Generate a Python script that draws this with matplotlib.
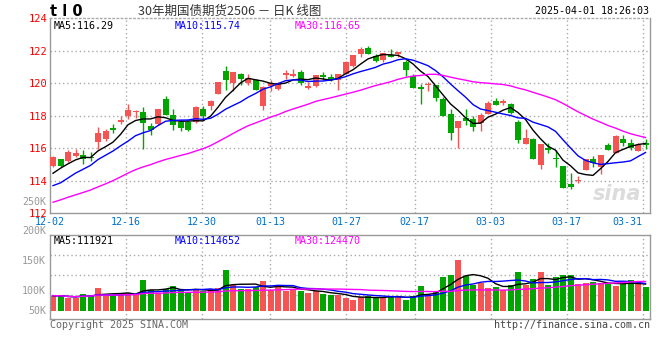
import matplotlib
matplotlib.use("Agg")
import matplotlib.pyplot as plt
import numpy as np
import pandas as pd

# daily candles, 2024-12-02 .. 2025-04-01 (80 trading days)
opens = [114.91, 115.34, 115.20, 115.53, 115.57, 115.49, 116.39, 116.55, 117.25, 117.58,
         117.95, 118.20, 118.24, 117.37, 117.50, 119.02, 118.06, 117.59, 117.59, 117.59,
         118.41, 118.57, 119.35, 120.76, 120.00, 120.57, 120.00, 120.16, 118.61, 119.80,
         119.63, 120.49, 120.41, 120.69, 119.67, 119.80, 120.51, 120.37, 120.16, 120.57,
         121.02, 121.80, 122.16, 121.67, 121.39, 121.73, 121.80, 121.27, 120.45, 119.75,
         119.90, 119.90, 119.02, 118.11, 117.25, 117.85, 117.78, 117.54, 118.11, 118.93,
         118.77, 118.69, 117.64, 116.27, 116.55, 114.95, 116.02, 115.41, 114.91, 113.80,
         113.99, 114.67, 115.32, 114.87, 116.18, 115.73, 116.59, 116.31, 115.82, 116.31]
highs = [115.50, 115.36, 115.86, 115.94, 115.86, 115.78, 117.33, 117.17, 117.46, 117.99,
         118.73, 118.32, 118.52, 117.54, 118.40, 119.18, 118.43, 117.76, 117.76, 118.61,
         118.57, 118.98, 120.04, 121.02, 120.69, 120.61, 120.57, 120.24, 119.80, 120.20,
         120.04, 120.82, 120.86, 120.82, 120.04, 120.51, 120.67, 120.57, 120.55, 121.33,
         121.73, 122.20, 122.29, 121.80, 121.88, 122.08, 121.92, 121.43, 120.57, 119.92,
         120.08, 119.90, 119.14, 118.40, 117.70, 118.40, 117.99, 118.19, 118.87, 119.08,
         119.04, 118.77, 117.74, 117.17, 116.62, 116.27, 116.35, 115.90, 114.91, 114.50,
         114.30, 115.32, 115.53, 115.61, 116.35, 116.84, 116.82, 116.59, 116.31, 116.55]
lows = [114.85, 114.83, 115.15, 115.45, 115.00, 115.24, 115.98, 116.43, 116.92, 117.50,
        117.78, 117.83, 115.98, 116.80, 117.45, 118.03, 117.10, 117.04, 117.04, 117.55,
        117.76, 118.33, 119.30, 119.59, 119.49, 119.90, 119.90, 119.55, 118.37, 119.49,
        119.59, 120.24, 120.37, 119.90, 119.63, 119.78, 120.20, 120.10, 119.59, 120.55,
        121.00, 121.63, 121.76, 121.27, 121.31, 121.59, 121.63, 120.41, 119.71, 118.69,
        119.49, 118.87, 117.99, 116.51, 116.02, 117.44, 117.03, 117.07, 118.11, 118.63,
        118.63, 118.11, 116.35, 116.27, 115.36, 114.75, 115.69, 114.87, 113.56, 113.52,
        113.85, 114.63, 114.83, 114.42, 115.86, 115.73, 116.14, 115.90, 115.82, 115.94]
closes = [115.45, 114.91, 115.77, 115.69, 115.36, 115.40, 116.96, 117.05, 117.09, 117.74,
          118.36, 118.26, 117.54, 117.09, 118.40, 118.07, 117.45, 117.27, 117.14, 118.53,
          118.00, 118.88, 120.04, 120.16, 120.69, 120.27, 120.31, 119.59, 119.76, 120.00,
          120.00, 120.65, 120.57, 120.00, 119.84, 120.51, 120.35, 120.20, 120.55, 121.27,
          121.73, 122.08, 121.80, 121.33, 121.84, 121.63, 121.92, 120.78, 119.71, 119.65,
          119.96, 119.08, 117.99, 116.92, 117.70, 117.68, 117.33, 118.05, 118.77, 118.63,
          118.89, 118.15, 116.51, 116.64, 115.36, 116.23, 115.86, 115.32, 113.56, 113.64,
          114.05, 115.32, 115.08, 115.61, 115.86, 116.76, 116.31, 116.02, 116.18, 116.18]
# closes before the window (needed for the moving averages at the left edge)
prev_closes = [110.6, 110.9, 111.3, 111.0, 110.8, 111.2, 111.5, 111.1, 110.9, 111.3,
               112.0, 112.5, 112.9, 113.3, 113.6, 113.8, 113.5, 113.7, 113.9, 113.6,
               113.2, 112.8, 112.7, 113.0, 113.0, 113.36, 114.42, 114.49, 114.58]
volumes = [87.6, 86.8, 82.6, 82.6, 91.8, 86.8, 106.8, 87.6, 88.4, 95.1,
           94.3, 91.8, 126.8, 101.8, 95.1, 104.3, 111.8, 101.8, 97.6, 101.8,
           98.4, 104.3, 106.8, 151.8, 114.3, 103.4, 105.1, 108.4, 124.3, 101.8,
           114.3, 99.3, 105.1, 99.3, 94.3, 100.1, 91.8, 89.3, 89.3, 81.8,
           76.8, 83.4, 86.8, 85.1, 83.4, 85.1, 86.8, 76.8, 86.8, 111.8,
           91.8, 99.3, 134.3, 139.3, 176.8, 136.8, 114.3, 120.1, 107.6, 109.3,
           101.8, 114.3, 146.8, 114.3, 129.3, 146.8, 114.3, 134.3, 139.3, 139.3,
           116.8, 120.1, 121.8, 120.1, 116.8, 111.8, 116.8, 126.8, 118.4, 109.3]

tick_labels = ["12-02", "12-16", "12-30", "01-13", "01-27", "02-17", "03-03", "03-17", "03-31"]
tick_index = [0, 10, 20, 29, 39, 48, 58, 68, 78]
vol_labels = ["250K", "200K", "150K", "100K", "50K"]
vol_label_px = [202, 231, 261, 291, 311]

RED = "#f65353"
GREEN = "#00a500"
GRID = "#aaaaaa"
MONO = "DejaVu Sans Mono"

W, H = 660, 360


def fx(px):
    return px / W


def fy(py):
    return 1 - py / H


opens = np.array(opens)
closes_a = np.array(closes)
highs = np.array(highs)
lows = np.array(lows)
vol = np.array(volumes) * 1000
n = len(closes)
x = np.arange(n)
up = closes_a >= opens
colors = np.where(up, RED, GREEN)

allc = pd.Series(prev_closes + closes)
ma5 = allc.rolling(5).mean().values[-n:]
ma10 = allc.rolling(10).mean().values[-n:]
ma30 = allc.rolling(30).mean().values[-n:]
vs = pd.Series(vol)
vma5 = vs.rolling(5, min_periods=1).mean().values
vma10 = vs.rolling(10, min_periods=1).mean().values
vma30 = vs.rolling(30, min_periods=1).mean().values

fig = plt.figure(figsize=(6.6, 3.6), dpi=100)
ax = fig.add_axes([fx(50), fy(213.3), fx(600), 195.3 / H])
axv = fig.add_axes([fx(50), fy(319), fx(600), 84.3 / H])

xlim = (-0.4, 79.6)
# grid positions of the date ticks (sina spaces them slightly wider than candles)
grid_x = [(7.6 * i - 3) / 7.5 for i in tick_index]

# ---- price panel
ax.set_xlim(*xlim)
ax.set_ylim(112, 124)
for gy in [114, 116, 118, 120, 122]:
    ax.axhline(gy, color=GRID, lw=1, ls=(0, (1, 2)), zorder=0)
for gx in grid_x[1:]:
    ax.axvline(gx, color=GRID, lw=1, ls=(0, (1, 2)), zorder=0)

ax.vlines(x, lows, highs, colors=colors, lw=1, zorder=2)
body_h = np.maximum(np.abs(closes_a - opens), 0.03)
ax.bar(x, body_h, bottom=np.minimum(opens, closes_a), width=0.8,
       color=colors, linewidth=0, zorder=3)

ax.plot(x, ma5, color="black", lw=1, zorder=4)
ax.plot(x, ma10, color="#0000ff", lw=1, zorder=4)
ax.plot(x, ma30, color="#ff00ff", lw=1, zorder=4)

ax.set_yticks(range(112, 125, 2))
ax.set_yticklabels([str(v) for v in range(112, 125, 2)], color="#ff0000",
                   fontsize=7.5, family=MONO)
ax.set_xticks(grid_x)
ax.set_xticklabels(tick_labels, color="#0070c8", fontsize=7.2, family=MONO)
ax.tick_params(length=0, pad=2)
ax.tick_params(axis="x", pad=3)
for lab in ax.get_xticklabels()[-1:]:
    lab.set_horizontalalignment("right")
for s in ax.spines.values():
    s.set_color("#999999")
    s.set_linewidth(1)
ax.spines["top"].set_linestyle((0, (1, 2)))
ax.spines["top"].set_color(GRID)

ax.text(0.006, 0.985, "MA5:%.2f" % ma5[-1], transform=ax.transAxes, va="top",
        fontsize=7.2, family=MONO, color="black")
ax.text(0.208, 0.985, "MA10:%.2f" % ma10[-1], transform=ax.transAxes, va="top",
        fontsize=7.2, family=MONO, color="#0000ff")
ax.text(0.408, 0.985, "MA30:%.2f" % ma30[-1], transform=ax.transAxes, va="top",
        fontsize=7.2, family=MONO, color="#ff00ff")
ax.text(0.985, 0.05, "sina", transform=ax.transAxes, ha="right", va="bottom",
        fontsize=15, style="italic", weight="bold", color="#dcdcdc", zorder=1)

# ---- volume panel
axv.set_xlim(*xlim)
axv.set_ylim(29250, 240000)
for gy in [88500, 138500, 188500]:
    axv.axhline(gy, color=GRID, lw=1, ls=(0, (1, 2)), zorder=0)
for gx in grid_x[1:]:
    axv.axvline(gx, color=GRID, lw=1, ls=(0, (1, 2)), zorder=0)
axv.bar(x, vol - 50000, bottom=50000, width=0.8, color=colors, linewidth=0, zorder=2)
axv.plot(x, vma5, color="black", lw=1, zorder=3)
axv.plot(x, vma10, color="#0000ff", lw=1, zorder=3)
axv.plot(x, vma30, color="#ff00ff", lw=1, zorder=3)
axv.set_xticks([])
axv.set_yticks([])
for s in axv.spines.values():
    s.set_color("#999999")
    s.set_linewidth(1)

axv.text(0.006, 0.98, "MA5:111921", transform=axv.transAxes, va="top",
         fontsize=7.2, family=MONO, color="black")
axv.text(0.208, 0.98, "MA10:114652", transform=axv.transAxes, va="top",
         fontsize=7.2, family=MONO, color="#0000ff")
axv.text(0.408, 0.98, "MA30:124470", transform=axv.transAxes, va="top",
         fontsize=7.2, family=MONO, color="#ff00ff")

for lab, py in zip(vol_labels, vol_label_px):
    fig.text(fx(46), fy(py), lab, ha="right", va="center", fontsize=7.2,
             family=MONO, color="#999999")

# ---- header / footer
fig.text(fx(50), fy(12), "t l 0", ha="left", va="center", fontsize=10.5,
         weight="bold", family="DejaVu Sans", color="black")
fig.text(fx(230), fy(11), "30年期国债期货2506 － 日K 线图", ha="center", va="center",
         fontsize=9, family=["Noto Sans CJK SC", "DejaVu Sans"], color="#333333")
fig.text(fx(649), fy(11), "2025-04-01 18:26:03", ha="right", va="center",
         fontsize=7.2, family=MONO, color="black")
fig.text(fx(50), fy(325), "Copyright 2025 SINA.COM", ha="left", va="center",
         fontsize=7.2, family=MONO, color="#666666")
fig.text(fx(650), fy(325), "http://finance.sina.com.cn", ha="right", va="center",
         fontsize=7.2, family=MONO, color="#444444")

fig.savefig("out.png", dpi=100)
